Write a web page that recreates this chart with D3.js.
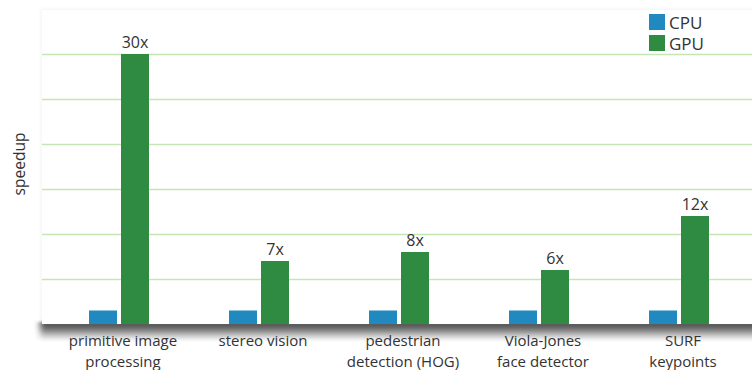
<!DOCTYPE html>
<html>
<head>
<meta charset="utf-8">
<script src="https://cdn.jsdelivr.net/npm/d3@7"></script>
<style>
  html, body { margin: 0; padding: 0; background: #ffffff; }
  svg { display: block; }
  text { font-family: "Open Sans", "Noto Sans", sans-serif; fill: #333333; }
</style>
</head>
<body>
<svg id="chart" width="752" height="370"></svg>
<script>
// Benchmarks and their speedups relative to the CPU implementation
const categories = [
  ["primitive image", "processing"],
  ["stereo vision"],
  ["pedestrian", "detection (HOG)"],
  ["Viola-Jones", "face detector"],
  ["SURF", "keypoints"]
];
const seriesNames = ["CPU", "GPU"];
const cpuValues = [1.5, 1.5, 1.5, 1.5, 1.5];
const gpuValues = [30, 7, 8, 6, 12];
const gpuLabels = ["30x", "7x", "8x", "6x", "12x"];
const gridTicks = [5, 10, 15, 20, 25, 30];
const colors = ["#2089c0", "#2e8b41"];

const svg = d3.select("#chart");
const plot = { left: 42, right: 752, top: 10, bottom: 324 };

const keys = categories.map(c => c.join(" "));
const rows = keys.map((k, i) => ({ key: k, lines: categories[i], values: [cpuValues[i], gpuValues[i]], label: gpuLabels[i] }));

const x0 = d3.scaleBand().domain(keys).range([49, 749])
  .paddingInner(80 / 140).paddingOuter(40 / 140);
const x1 = d3.scaleBand().domain(seriesNames).range([0, x0.bandwidth()])
  .paddingInner(0.125).paddingOuter(0);
const y = d3.scaleLinear().domain([0, 35]).range([plot.bottom, plot.bottom - 35 * 9]);

const defs = svg.append("defs");
const g1 = defs.append("linearGradient").attr("id", "baseShade")
  .attr("x1", 0).attr("y1", 0).attr("x2", 0).attr("y2", 1);
g1.append("stop").attr("offset", "0%").attr("stop-color", "#454545");
g1.append("stop").attr("offset", "35%").attr("stop-color", "#707070");
g1.append("stop").attr("offset", "70%").attr("stop-color", "#c4c4c4");
g1.append("stop").attr("offset", "100%").attr("stop-color", "#ffffff");
defs.append("filter").attr("id", "soft").attr("x", "-5%").attr("y", "-50%").attr("width", "110%").attr("height", "200%")
  .append("feGaussianBlur").attr("stdDeviation", "3 1.5");
defs.append("filter").attr("id", "faint").attr("x", "-5%").attr("y", "-5%").attr("width", "110%").attr("height", "110%")
  .append("feGaussianBlur").attr("stdDeviation", 2);

// soft frame around the plot panel
svg.append("rect")
  .attr("x", plot.left - 1).attr("y", plot.top - 1)
  .attr("width", plot.right - plot.left + 20).attr("height", plot.bottom - plot.top)
  .attr("fill", "#000").attr("opacity", 0.05).attr("filter", "url(#faint)");

// dark floor shading under the baseline
svg.append("rect")
  .attr("x", plot.left - 2).attr("y", plot.bottom - 2)
  .attr("width", plot.right - plot.left + 30).attr("height", 19)
  .attr("fill", "url(#baseShade)").attr("filter", "url(#soft)");

// plot panel
svg.append("rect")
  .attr("x", plot.left).attr("y", plot.top)
  .attr("width", plot.right - plot.left).attr("height", plot.bottom - plot.top)
  .attr("fill", "#ffffff");

// horizontal gridlines
svg.append("g").selectAll("line").data(gridTicks).join("line")
  .attr("x1", plot.left).attr("x2", plot.right)
  .attr("y1", d => Math.round(y(d)) + 0.5).attr("y2", d => Math.round(y(d)) + 0.5)
  .attr("stroke", "#c6e5b5").attr("stroke-width", 1.6);

// bars
const groups = svg.append("g").selectAll("g").data(rows).join("g")
  .attr("transform", d => `translate(${x0(d.key)},0)`);
groups.selectAll("rect").data(d => d.values.map((v, i) => ({ s: seriesNames[i], v, i }))).join("rect")
  .attr("x", d => x1(d.s))
  .attr("width", x1.bandwidth())
  .attr("y", d => y(d.v))
  .attr("height", d => y(0) - y(d.v))
  .attr("fill", d => colors[d.i]);

// value labels on GPU bars
groups.append("text")
  .attr("x", x1("GPU") + x1.bandwidth() / 2)
  .attr("y", d => y(d.values[1]) - 6)
  .attr("text-anchor", "middle")
  .attr("font-size", 16)
  .text(d => d.label);

// category labels, one text element per line
const catLines = rows.flatMap(d => d.lines.map((line, i) => ({ key: d.key, line, i })));
svg.append("g").selectAll("text").data(catLines).join("text")
  .attr("text-anchor", "middle")
  .attr("font-size", 15)
  .attr("x", d => x0(d.key) + x0.bandwidth() / 2 + 4)
  .attr("y", d => 346 + d.i * 20.5)
  .text(d => d.line);

// y-axis title
svg.append("text")
  .attr("transform", "translate(25,164) rotate(-90)")
  .attr("text-anchor", "middle")
  .attr("font-size", 15.5)
  .text("speedup");

// legend
const legend = svg.append("g").attr("transform", "translate(649,14)");
const li = legend.selectAll("g").data(seriesNames).join("g")
  .attr("transform", (d, i) => `translate(0,${i * 21})`);
li.append("rect").attr("width", 16).attr("height", 16).attr("fill", (d, i) => colors[i]);
li.append("text").attr("x", 20).attr("y", 15).attr("font-size", 17).text(d => d);
</script>
</body>
</html>
